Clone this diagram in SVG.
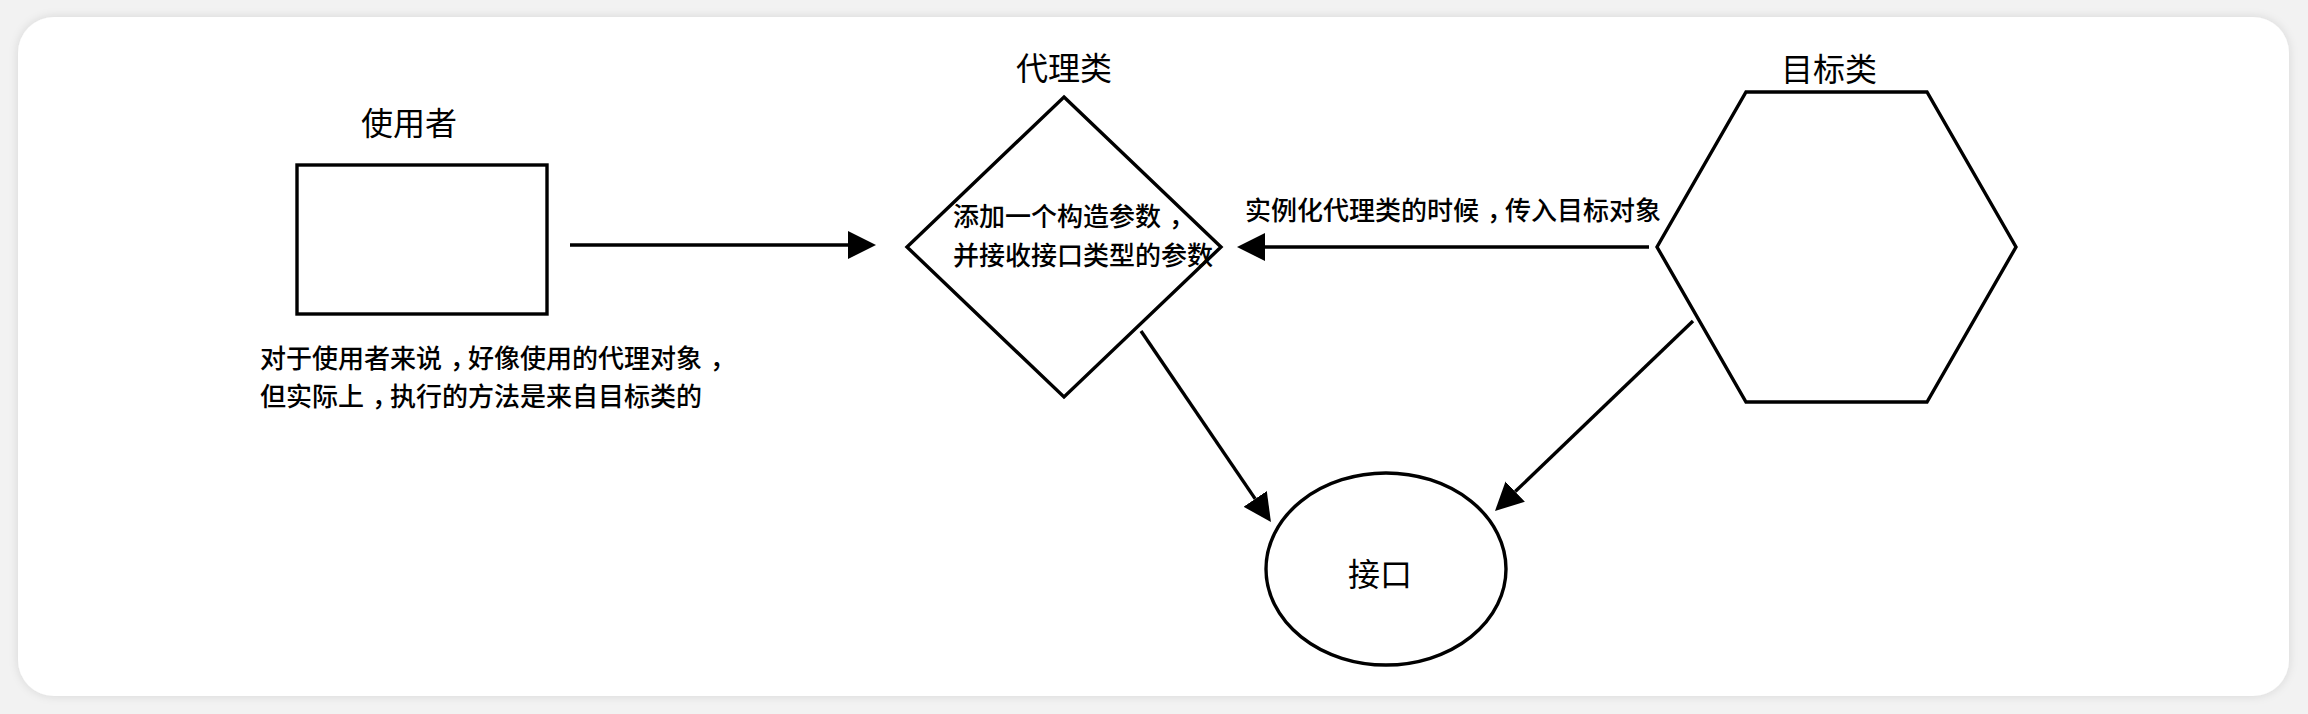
<svg xmlns="http://www.w3.org/2000/svg" width="2308" height="714" viewBox="0 0 2308 714">
<style>
.shape{fill:#ffffff;stroke:#000000;stroke-width:3.4}
.edge{fill:none;stroke:#000000;stroke-width:3.4}
.title{font-family:"Noto Sans CJK SC","Noto Sans",sans-serif;font-size:32px;font-weight:400;fill:#000000}
.desc{font-family:"Noto Sans CJK SC","Noto Sans",sans-serif;font-size:26px;font-weight:500;fill:#000000}
.c{letter-spacing:-8px}
</style>
<defs>
<filter id="shadow" x="-5%" y="-10%" width="110%" height="120%">
<feDropShadow dx="0" dy="0" stdDeviation="5" flood-color="#000000" flood-opacity="0.12"/>
</filter>
<marker id="arrow" viewBox="0 0 28 28" markerWidth="28" markerHeight="28" refX="0" refY="14" orient="auto" markerUnits="userSpaceOnUse">
<path d="M0,0 L28,14 L0,28 Z" fill="#000000"/>
</marker>
</defs>
<rect x="0" y="0" width="2308" height="714" fill="#f2f2f2"/>
<rect id="card" x="18" y="17" width="2271" height="679" rx="36" ry="36" fill="#ffffff" filter="url(#shadow)"/>

<g id="user">
<rect class="shape" x="297" y="165" width="250" height="149"/>
<text class="title" x="361" y="135">使用者</text>
<text class="desc" x="260" y="368">对于使用者来说<tspan class="c" dx="8">，</tspan>好像使用的代理对象<tspan class="c" dx="8">，</tspan></text>
<text class="desc" x="260" y="406">但实际上<tspan class="c" dx="8">，</tspan>执行的方法是来自目标类的</text>
</g>

<g id="proxy">
<polygon class="shape" points="1064,97 1221,247 1064,397 907,247"/>
<text class="title" x="1016" y="80">代理类</text>
<text class="desc" x="953" y="226">添加一个构造参数<tspan class="c" dx="8">，</tspan></text>
<text class="desc" x="953" y="265">并接收接口类型的参数</text>
</g>

<g id="target">
<polygon class="shape" points="1746,92 1927,92 2016,247 1927,402 1746,402 1657,247"/>
<text class="title" x="1781" y="81">目标类</text>
</g>

<g id="interface">
<ellipse class="shape" cx="1386" cy="569" rx="120" ry="96"/>
<text class="title" x="1348" y="586">接口</text>
</g>

<g id="connectors">
<line class="edge" x1="570" y1="245" x2="848" y2="245" marker-end="url(#arrow)"/>
<line class="edge" x1="1649" y1="247" x2="1265" y2="247" marker-end="url(#arrow)"/>
<text class="desc" x="1245" y="220">实例化代理类的时候<tspan class="c" dx="8">，</tspan>传入目标对象</text>
<line class="edge" x1="1141" y1="331" x2="1255.2" y2="498.9" marker-end="url(#arrow)"/>
<line class="edge" x1="1693" y1="321" x2="1515.2" y2="491.6" marker-end="url(#arrow)"/>
</g>
</svg>
